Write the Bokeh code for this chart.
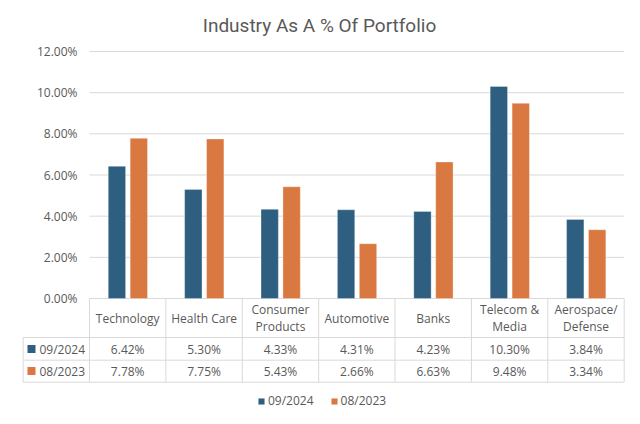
import numpy as np
from bokeh.plotting import figure
from bokeh.models import (Range1d, LinearAxis, FixedTicker, PrintfTickFormatter,
                          ColumnDataSource, Legend, LegendItem, Label)
from bokeh.transform import dodge
from bokeh.core.properties import value
from bokeh.embed import file_html
from bokeh.resources import INLINE

# ---------------- data ----------------
title_text = "Industry As A % Of Portfolio"
categories = ["Technology", "Health Care", "Consumer\nProducts", "Automotive",
              "Banks", "Telecom &\nMedia", "Aerospace/\nDefense"]
series_names = ["09/2024", "08/2023"]
values_2024 = [6.42, 5.30, 4.33, 4.31, 4.23, 10.30, 3.84]
values_2023 = [7.78, 7.75, 5.43, 2.66, 6.63, 9.48, 3.34]
y_ticks = [0, 2, 4, 6, 8, 10, 12]

# ---------------- style ----------------
BLUE = "#2E5F80"
ORANGE = "#DA7841"
TEXT = "#595959"
GRID = "#D9D9D9"
FONT = "Open Sans"
TITLE_FONT = "Roboto"

W, H = 632, 416
OX, OY = 0, 0          # where the figure lands on the page
# page-pixel geometry
PL_LEFT, PL_RIGHT = 89.0, 623.7
ZERO_Y, TOP_Y = 298.0, 51.0
n = len(categories)
col_w = (PL_RIGHT - PL_LEFT) / n
y_per_px = max(y_ticks) / (ZERO_Y - TOP_Y)


def xd(page_x):
    return (page_x - PL_LEFT) / col_w


def yd(page_y):
    return (ZERO_Y - page_y) * y_per_px


p = figure(width=W, height=H, output_backend="svg", toolbar_location=None,
           x_range=Range1d(xd(OX), xd(OX + W)), y_range=Range1d(yd(OY + H), yd(OY)),
           x_axis_location=None, y_axis_location=None, min_border=0,
           outline_line_color=None, background_fill_color="white",
           border_fill_color="white")
p.grid.visible = False

# gridlines over the plot area only
p.segment(x0=0, x1=n, y0=y_ticks, y1=y_ticks, line_color=GRID, line_width=1)

# y axis drawn at the left edge of the plot area
yaxis = LinearAxis(fixed_location=0, ticker=FixedTicker(ticks=y_ticks),
                   formatter=PrintfTickFormatter(format="%.2f%%"),
                   axis_line_color=None, major_tick_line_color=None,
                   minor_tick_line_color=None, major_tick_out=0, major_tick_in=0,
                   major_label_standoff=12, major_label_text_font=FONT,
                   major_label_text_font_size="12px", major_label_text_color=TEXT)
p.add_layout(yaxis, "left")

src = ColumnDataSource(dict(
    x=[i + 0.5 for i in range(n)],
    cat=categories,
    v1=values_2024,
    v2=values_2023,
    t1=[f"{v:.2f}%" for v in values_2024],
    t2=[f"{v:.2f}%" for v in values_2023],
))

bw = 0.227
r1 = p.vbar(x=dodge("x", -0.141, range=p.x_range), top="v1", bottom=0, width=bw,
            source=src, fill_color=BLUE, line_color="white", line_alpha=0.3)
r2 = p.vbar(x=dodge("x", 0.146, range=p.x_range), top="v2", bottom=0, width=bw,
            source=src, fill_color=ORANGE, line_color="white", line_alpha=0.3)

# ---------------- data table ----------------
row_label_left = xd(22.7)
h1, h2, h3 = yd(337), yd(359.7), yd(381.7)
p.segment(x0=[row_label_left] * 3, x1=[n] * 3, y0=[h1, h2, h3], y1=[h1, h2, h3],
          line_color=GRID, line_width=1)
p.segment(x0=list(range(n + 1)), x1=list(range(n + 1)), y0=[0] * (n + 1),
          y1=[h3] * (n + 1), line_color=GRID, line_width=1)
p.segment(x0=[row_label_left], x1=[row_label_left], y0=[h1], y1=[h3],
          line_color=GRID, line_width=1)

txt = dict(text_font=value(FONT), text_font_size="12px", text_color=TEXT,
           text_baseline="middle")
p.text(x="x", y=yd(317.5), text="cat", source=src, text_align="center",
       text_line_height=0.97, **txt)
p.text(x="x", y=yd(348.5), text="t1", source=src, text_align="center", **txt)
p.text(x="x", y=yd(370.5), text="t2", source=src, text_align="center", **txt)
p.text(x=[xd(39)] * 2, y=[yd(348.5), yd(370.5)], text=series_names,
       text_align="left", **txt)
p.scatter(x=[xd(31)] * 2, y=[yd(348.5), yd(370.5)], marker="square", size=8,
          fill_color=[BLUE, ORANGE], line_color=None)

# ---------------- legend ----------------
legend = Legend(items=[LegendItem(label=series_names[0], renderers=[r1]),
                       LegendItem(label=series_names[1], renderers=[r2])],
                orientation="horizontal", location=(257 - OX, OY + H - 403 - 6),
                glyph_width=8, glyph_height=8, label_height=12, label_standoff=3,
                spacing=16, padding=0, margin=0, border_line_color=None,
                background_fill_alpha=0, label_text_font=FONT,
                label_text_font_size="12px", label_text_color=TEXT)
p.add_layout(legend, "center")

# ---------------- title ----------------
p.add_layout(Label(x=319 - OX, y=OY + H - 25, x_units="screen", y_units="screen",
                   text=title_text, text_align="center", text_baseline="alphabetic",
                   text_font=TITLE_FONT, text_font_size="19px", text_color=TEXT))

open("out.html", "w").write(file_html(p, INLINE))
